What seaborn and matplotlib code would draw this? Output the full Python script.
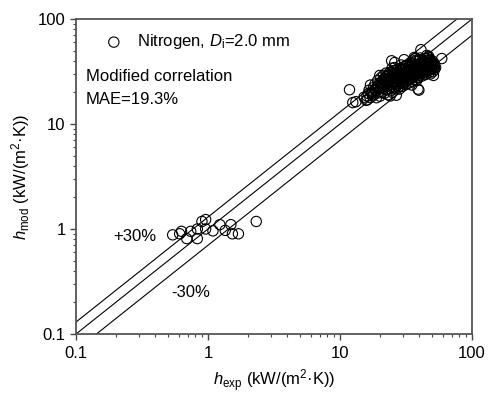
import matplotlib
matplotlib.use("Agg")
import matplotlib.pyplot as plt
import seaborn as sns
import numpy as np
import pandas as pd

# ---------------- data ----------------
low_x = [0.54, 0.61, 0.63, 0.69, 0.74, 0.83, 0.83, 0.90, 0.96, 0.96, 1.09, 1.23, 1.35, 1.49, 1.53, 1.70, 2.32]
low_y = [0.88, 0.90, 0.95, 0.81, 0.95, 1.00, 0.81, 1.18, 1.23, 1.00, 0.96, 1.10, 0.97, 1.10, 0.90, 0.90, 1.18]

cluster_pairs = [
    (11.8, 21.2), (12.5, 16.0), (13.2, 16.3), (59, 42), (41, 51), (24.6, 40), (26, 38.5), (30.6, 41),
    (36.5, 43), (37.2, 42), (39, 21.5), (39.6, 21.0), (24, 18.5), (16.1, 17), (17, 23.5), (45.5, 45),
    (47, 44), (50, 40), (52, 33), (51, 29),
    (15.2, 18.0), (15.8, 16.8), (16.4, 19.5), (16.6, 21.0), (16.9, 17.8), (17.3, 20.2), (17.6, 18.5),
    (17.9, 22.2), (18.1, 19.0), (18.4, 24.0), (18.6, 20.8), (18.9, 17.8), (19.1, 22.8), (19.3, 26.0),
    (19.6, 19.8), (19.9, 24.5), (20.1, 18.4), (20.2, 21.8), (20.4, 27.5), (20.7, 23.2), (20.9, 20.0),
    (21.1, 25.8), (21.3, 29.0), (21.4, 22.0), (21.7, 19.6), (21.9, 27.0), (22.1, 24.0), (22.3, 30.5),
    (22.4, 21.2), (22.7, 26.2), (22.9, 23.0), (23.1, 19.0), (23.3, 28.5), (23.6, 25.0), (23.8, 31.0),
    (23.9, 21.8), (24.2, 27.2), (24.4, 23.6), (24.7, 29.5), (24.9, 20.0), (25.1, 26.0), (25.3, 32.0),
    (25.5, 24.2), (25.8, 28.0), (26.0, 22.0), (26.2, 30.0), (26.4, 25.5), (26.7, 18.8), (26.9, 27.5),
    (27.1, 33.0), (27.3, 23.5), (27.6, 29.0), (27.8, 26.0), (28.0, 31.5), (28.2, 21.5), (28.5, 27.0),
    (28.7, 34.0), (28.9, 24.5), (29.1, 29.8), (29.4, 26.5), (29.6, 32.5), (29.8, 22.8), (30.0, 28.0),
    (30.3, 35.0), (30.5, 25.5), (30.8, 30.5), (31.0, 27.2), (31.2, 33.2), (31.5, 23.8), (31.7, 29.0),
    (32.0, 36.0), (32.2, 26.0), (32.5, 31.0), (32.7, 28.2), (33.0, 34.2), (33.2, 24.5), (33.5, 30.0),
    (33.8, 37.0), (34.0, 27.0), (34.3, 32.0), (34.5, 29.0), (34.8, 35.5), (35.0, 25.5), (35.3, 31.2),
    (35.6, 38.0), (35.8, 28.0), (36.1, 33.5), (36.4, 30.0), (36.7, 36.5), (37.0, 26.5), (37.3, 32.5),
    (37.6, 39.5), (37.9, 29.5), (38.2, 34.8), (38.5, 31.0), (38.8, 37.0), (39.1, 27.5), (39.4, 33.0),
    (39.8, 40.0), (40.1, 30.5), (40.4, 35.5), (40.8, 32.0), (41.1, 38.0), (41.5, 28.5), (41.8, 34.0),
    (42.2, 41.0), (42.6, 31.0), (43.0, 36.5), (43.4, 33.0), (43.8, 39.0), (44.2, 29.5), (44.6, 35.0),
    (45.0, 42.0), (45.5, 32.0), (46.0, 37.5), (46.5, 34.0), (47.0, 40.0), (47.5, 31.0), (48.0, 36.0),
    (48.5, 38.5), (49.0, 33.5), (49.5, 35.0), (50.0, 37.0), (50.5, 31.5), (51.0, 34.0), (52.0, 36.0),
    (53.0, 34.5),
    (20.5, 25.0), (21.0, 23.5), (22.0, 25.8), (23.0, 27.0), (24.0, 26.5), (25.0, 27.8), (26.0, 28.8),
    (27.0, 25.2), (28.0, 28.5), (29.0, 27.5), (30.0, 30.2), (31.0, 31.5), (32.0, 29.8), (33.0, 32.0),
    (34.0, 30.5), (35.0, 33.5), (36.0, 31.5), (37.0, 34.0), (38.0, 32.8), (39.0, 35.5), (40.0, 33.8),
    (41.0, 36.0), (42.0, 34.5), (43.0, 37.8), (44.0, 36.2), (45.0, 38.5), (46.0, 35.5), (47.0, 37.0),
    (48.0, 33.0), (49.0, 39.0), (27.5, 22.5), (30.5, 24.0), (33.5, 26.5), (36.5, 28.5), (39.5, 30.0),
    (42.5, 32.5), (45.5, 34.5), (48.5, 30.0), (25.5, 30.5), (28.5, 32.8), (31.5, 35.5), (34.5, 37.8),
    (37.5, 40.5), (40.5, 42.5), (18.5, 21.5), (19.5, 23.0), (21.5, 26.8), (22.5, 28.5), (26.5, 24.0),
    (29.5, 25.0), (32.5, 27.0), (35.5, 29.5), (38.5, 28.0), (41.5, 30.5), (44.5, 31.5), (47.5, 33.5),
    (16.0, 18.5), (17.5, 19.5), (23.5, 29.5), (24.5, 21.0), (27.0, 31.0), (30.0, 33.5), (33.0, 28.5),
    (36.0, 35.0), (39.0, 32.0), (42.0, 38.0), (45.0, 30.0), (48.0, 41.0), (50.5, 36.0), (51.5, 38.0),
    (46.5, 43.0), (43.5, 40.5), (38.0, 25.8), (35.0, 23.5), (26.0, 34.5), (29.0, 36.5), (24.8, 34.0),
    (20.0, 29.0),
]
cluster_x = [p[0] for p in cluster_pairs]
cluster_y = [p[1] for p in cluster_pairs]

h_exp = low_x + cluster_x
h_mod = low_y + cluster_y

line_x = [0.1, 100]
line_factors = [1.3, 1.0, 0.7]

axis_ticks = [0.1, 1, 10, 100]
axis_ticklabels = ["0.1", "1", "10", "100"]

# ---------------- style ----------------
sns.set_theme(style="white")
plt.rcParams["font.family"] = ["Liberation Sans", "DejaVu Sans"]
plt.rcParams["mathtext.fontset"] = "custom"
plt.rcParams["mathtext.rm"] = "Liberation Sans"
plt.rcParams["mathtext.it"] = "Liberation Sans:italic"
plt.rcParams["mathtext.bf"] = "Liberation Sans:bold"
plt.rcParams["text.color"] = "black"
plt.rcParams["axes.labelcolor"] = "black"
plt.rcParams["xtick.labelcolor"] = "black"
plt.rcParams["ytick.labelcolor"] = "black"

fig = plt.figure(figsize=(4.89, 3.94), dpi=100)
ax = fig.add_axes([76 / 489, 1 - 334 / 394, 396 / 489, 315 / 394])

df = pd.DataFrame({"h_exp": h_exp, "h_mod": h_mod})

for f in line_factors:
    sns.lineplot(x=line_x, y=[v * f for v in line_x], ax=ax, color="black", lw=0.8, zorder=1)

sns.scatterplot(data=df, x="h_exp", y="h_mod", ax=ax, marker="o", s=55,
                facecolors="none", edgecolor="black", linewidth=0.8, zorder=3,
                label=r"Nitrogen, $D_\mathrm{i}$=2.0 mm")

ax.set_xscale("log")
ax.set_yscale("log")
ax.set_xlim(0.1, 100)
ax.set_ylim(0.1, 100)
ax.set_xticks(axis_ticks)
ax.set_xticklabels(axis_ticklabels)
ax.set_yticks(axis_ticks)
ax.set_yticklabels(axis_ticklabels)

ax.tick_params(axis="both", which="major", direction="out", length=4.5, width=1, labelsize=12,
               color="#444444", labelcolor="black", pad=3,
               bottom=True, left=True, top=False, right=False)
ax.tick_params(axis="both", which="minor", direction="out", length=2.5, width=0.8,
               color="#444444", bottom=True, left=True, top=False, right=False)
ax.tick_params(axis="x", which="major", pad=4)
for sp in ax.spines.values():
    sp.set_color("#555555")
    sp.set_linewidth(1.3)

ax.set_xlabel(r"$h_\mathrm{exp}$ (kW/(m$^2$·K))", fontsize=12, labelpad=5, color="black")
ax.set_ylabel(r"$h_\mathrm{mod}$ (kW/(m$^2$·K))", fontsize=12, labelpad=4, color="black")

leg = ax.legend(loc="center left", bbox_to_anchor=(0.045, 0.927), frameon=False,
                fontsize=12, handletextpad=0.6, handlelength=1.6, borderaxespad=0,
                labelcolor="black")

ax.text(0.025, 0.819, "Modified correlation", transform=ax.transAxes, fontsize=12,
        va="center", ha="left", color="black")
ax.text(0.025, 0.743, "MAE=19.3%", transform=ax.transAxes, fontsize=12,
        va="center", ha="left", color="black")
ax.text(0.093, 0.308, "+30%", transform=ax.transAxes, fontsize=12, va="center", ha="left",
        color="black")
ax.text(0.24, 0.133, "-30%", transform=ax.transAxes, fontsize=12, va="center", ha="left",
        color="black")

fig.savefig("out.png", dpi=100)
